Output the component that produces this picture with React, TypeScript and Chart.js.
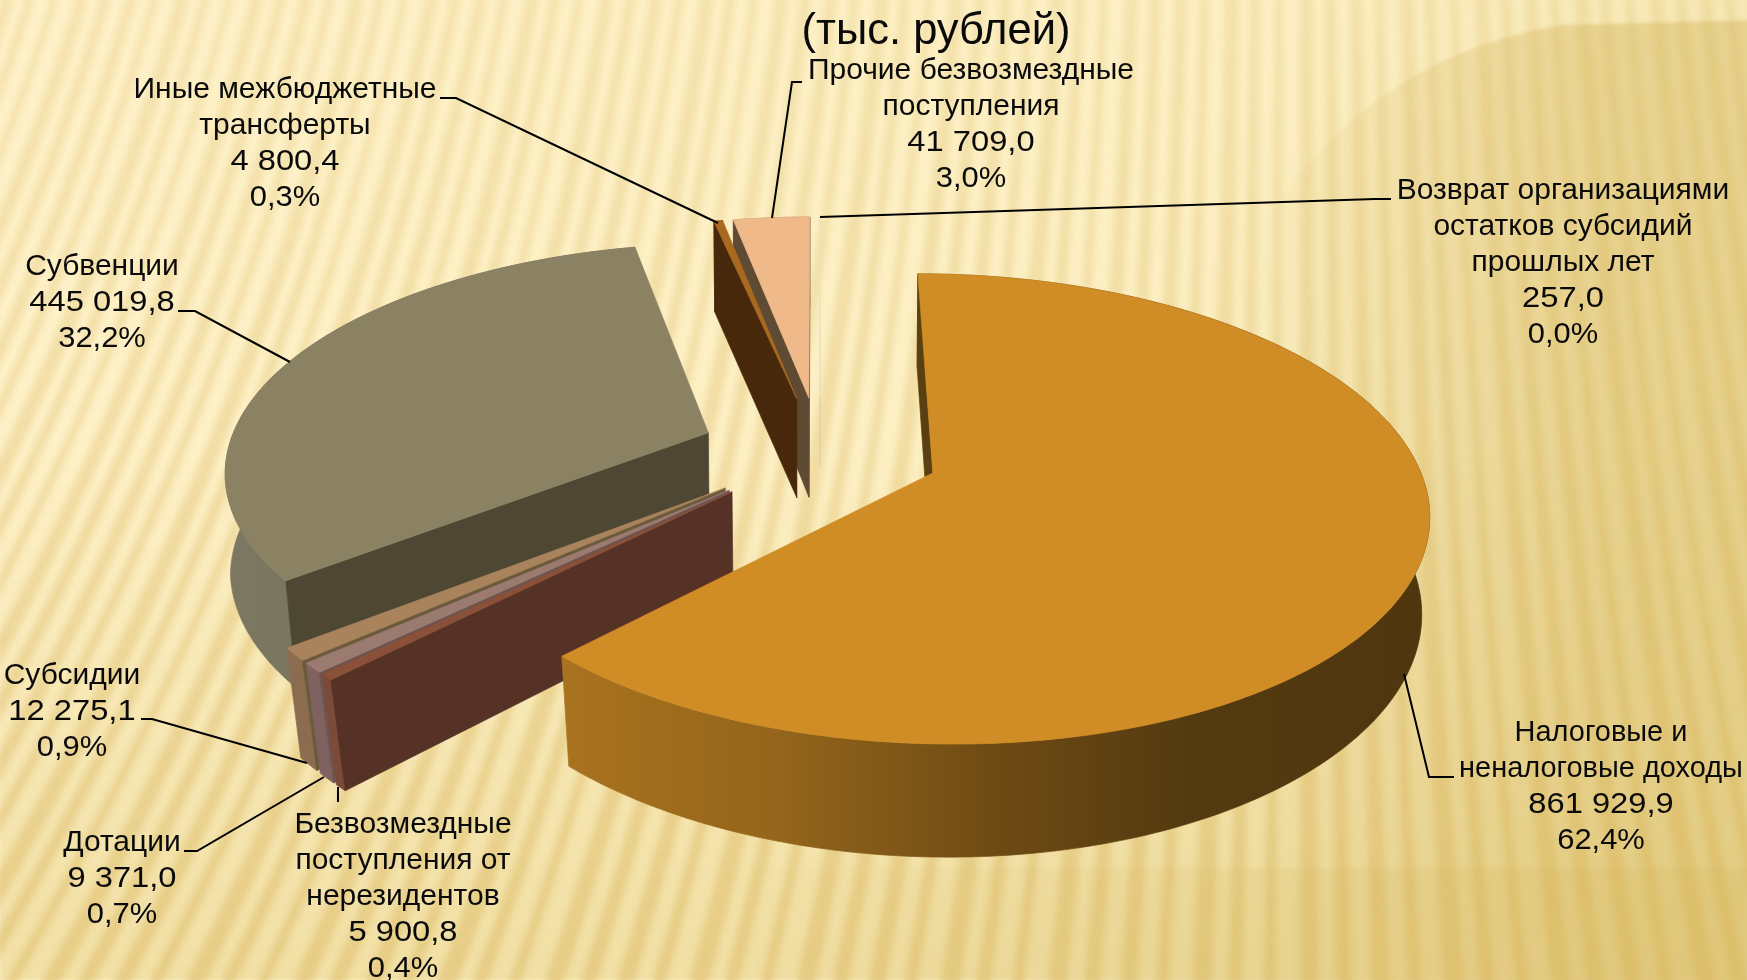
import React, { useEffect, useRef } from "react";
import { Chart, registerables } from "chart.js";

Chart.register(...registerables);

// ---------- data ----------
const categories = [
  "Налоговые и неналоговые доходы",
  "Безвозмездные поступления от нерезидентов",
  "Дотации",
  "Субсидии",
  "Субвенции",
  "Иные межбюджетные трансферты",
  "Прочие безвозмездные поступления",
  "Возврат организациями остатков субсидий прошлых лет",
];
const values = [861929.9, 5900.8, 9371.0, 12275.1, 445019.8, 4800.4, 41709.0, 257.0];
const valueLabels = ["861 929,9", "5 900,8", "9 371,0", "12 275,1", "445 019,8", "4 800,4", "41 709,0", "257,0"];
const percentLabels = ["62,4%", "0,4%", "0,7%", "0,9%", "32,2%", "0,3%", "3,0%", "0,0%"];
const nameLines = [
  ["Налоговые и", "неналоговые доходы"],
  ["Безвозмездные", "поступления от", "нерезидентов"],
  ["Дотации"],
  ["Субсидии"],
  ["Субвенции"],
  ["Иные межбюджетные", "трансферты"],
  ["Прочие безвозмездные", "поступления"],
  ["Возврат организациями", "остатков субсидий", "прошлых лет"],
];
const titleText = "(тыс. рублей)";

// ---------- styles ----------
const topColors = ["#d08d25", "#8a5038", "#9b7a70", "#a8835c", "#8b8264", "#a9691f", "#f0b98a", "#f6ecd0"];
const faceColors = ["#5a3f10", "#563226", "#6c5452", "#6a5a3c", "#4d4734", "#47280b", "#5f4a34", "#d8cfb8"];
const rimStart = ["#a9731f", "#7c4a38", "#7f615f", "#8c6c4e", "#7d7861", "#6f4513", "#a07c5c", "#d8cfb8"];
const rimEnd = ["#4f360f", "#7c4a38", "#7f615f", "#8c6c4e", "#6b664f", "#6f4513", "#a07c5c", "#d8cfb8"];
const paintOrder = [7, 6, 5, 4, 3, 2, 1, 0];
const nameStretch = [0.965, 1, 1, 1, 1, 1, 1, 1];
const depthScale = [1, 1, 1, 1, 1, 1, 1, 0.68];

// leader lines and label centres (px on the 1747x980 slide)
const labelCentres = [
  [1601, 733], [403, 825], [122, 843], [72, 676], [102, 267], [285, 90], [971, 71], [1563, 191],
];
const leaders = [
  [[1404, 674], [1429, 777], [1454, 777]],
  [[338, 787], [338, 802]],
  [[324, 777], [197, 851], [184, 851]],
  [[307, 763], [152, 719], [141, 719]],
  [[290, 362], [195, 311], [178, 311]],
  [[718, 223], [456, 98], [440, 98]],
  [[772, 218], [792, 82], [802, 82]],
  [[820, 217], [1375, 199], [1391, 199]],
];

// camera of the 3D pie
const VIEW = { x0: 820, y0: 473, S: 488, T: 229.6, k: 0.153, n: 0.024, D: 105, cy: 0.095, explode: 0.25 };
const FONT = '30px "Liberation Sans"';
const LINE = 36;
const VALUE_STRETCH = 1.09;
const PERCENT_STRETCH = 1.03;

function project(X: number, Y: number, H: number) {
  const YY = Y + VIEW.cy;
  const w = 1 + VIEW.k * YY + VIEW.n * H;
  const wx = 1 + VIEW.k * YY + H * (0.009 + 0.022 * Math.max(0, -YY));
  return [VIEW.x0 + (VIEW.S * X) / wx, VIEW.y0 + (-VIEW.T * YY + VIEW.D * H) / w];
}

function stripePath(ctx: CanvasRenderingContext2D, u: number, width: number) {
  const xf = 1300;
  const at = (uu: number, y: number) => uu + (uu - xf) * (0.00025 * y + 2e-7 * y * y);
  ctx.beginPath();
  for (let y = -20; y <= 1000; y += 40) ctx.lineTo(at(u, y), y);
  for (let y = 1000; y >= -20; y -= 40) ctx.lineTo(at(u + width, y), y);
  ctx.closePath();
}

const backgroundPlugin = {
  id: "slideBackground",
  beforeDraw(chart: any) {
    const { ctx, width, height } = chart;
    ctx.save();
    const g = ctx.createLinearGradient(0, 0, width, height);
    g.addColorStop(0, "#fef1c8");
    g.addColorStop(0.55, "#fcefc2");
    g.addColorStop(1, "#efdfa5");
    ctx.fillStyle = g;
    ctx.fillRect(0, 0, width, height);

    // darker rounded mass at right
    const r = ctx.createLinearGradient(1250, 0, 1600, 0);
    r.addColorStop(0, "rgba(222,196,118,0)");
    r.addColorStop(1, "rgba(222,196,118,0.6)");
    ctx.fillStyle = r;
    ctx.filter = "blur(1.5px)";
    ctx.beginPath();
    ctx.moveTo(1180, 400);
    ctx.bezierCurveTo(1240, 230, 1340, 60, 1563, 25);
    ctx.lineTo(1760, 20);
    ctx.lineTo(1760, 1000);
    ctx.lineTo(1180, 1000);
    ctx.closePath();
    ctx.fill();

    // darker floor at bottom, fading towards the left
    const b = ctx.createLinearGradient(700, 0, width, 0);
    b.addColorStop(0, "rgba(215,188,105,0)");
    b.addColorStop(1, "rgba(215,188,105,0.4)");
    ctx.fillStyle = b;
    ctx.fillRect(700, 868, width - 700, 120);
    const bl = ctx.createLinearGradient(0, 450, 0, 950);
    bl.addColorStop(0, "rgba(225,200,120,0)");
    bl.addColorStop(1, "rgba(225,200,120,0.4)");
    ctx.fillStyle = bl;
    ctx.fillRect(0, 450, width, 530);

    // fan of soft stripes
    ctx.filter = "blur(3px)";
    const s = ctx.createLinearGradient(0, 0, 0, 950);
    s.addColorStop(0, "rgba(214,176,82,0.2)");
    s.addColorStop(1, "rgba(214,176,82,0.38)");
    const widths = [12, 9, 14, 10, 8, 13, 11];
    let i = 0;
    for (let u = -3200; u < 2600; u += 25) {
      ctx.fillStyle = s;
      stripePath(ctx, u, widths[i % widths.length]);
      ctx.fill();
      i += 1;
    }
    ctx.restore();
  },
};

function drawSlice(ctx: CanvasRenderingContext2D, el: any, i: number) {
  const start = el.startAngle;
  const end = el.endAngle;
  const mid = (start + end) / 2;
  const ox = Math.cos(mid) * VIEW.explode;
  const oy = -Math.sin(mid) * VIEW.explode;
  const depth = depthScale[i];
  const rim = (a: number, H: number) => project(ox + Math.cos(a), oy - Math.sin(a), H * depth);
  const apex = (H: number) => project(ox, oy, H * depth);
  const poly = (pts: number[][], fill: any) => {
    ctx.beginPath();
    pts.forEach((p) => ctx.lineTo(p[0], p[1]));
    ctx.closePath();
    ctx.fillStyle = fill;
    ctx.strokeStyle = fill;
    ctx.lineWidth = i === 7 ? 0.4 : 0.7;
    ctx.fill();
    ctx.stroke();
  };
  const area = (pts: number[][]) =>
    pts.reduce((sum, p, j) => {
      const q = pts[(j + 1) % pts.length];
      return sum + p[0] * q[1] - q[0] * p[1];
    }, 0);

  const n = Math.max(2, Math.ceil(((end - start) * 180) / Math.PI));
  const angles: number[] = [];
  for (let s = 0; s <= n; s += 1) angles.push(start + ((end - start) * s) / n);

  // outer rim
  const topEdge = angles.map((a) => rim(a, 0));
  const botEdge = angles.map((a) => rim(a, 1)).reverse();
  const xs = topEdge.map((p) => p[0]);
  const front = topEdge.filter((p) => p[1] > apex(0)[1]);
  const minX = Math.min(...(front.length ? front.map((p) => p[0]) : xs));
  const maxX = Math.max(...(front.length ? front.map((p) => p[0]) : xs));
  let rimFill: any;
  if (i === 0) {
    rimFill = ctx.createLinearGradient(minX, 0, maxX, 0);
    rimFill.addColorStop(0, rimStart[i]);
    rimFill.addColorStop(0.25, "#94651b");
    rimFill.addColorStop(0.5, "#6e4b14");
    rimFill.addColorStop(0.72, "#543a10");
    rimFill.addColorStop(1, rimEnd[i]);
  } else {
    rimFill = ctx.createLinearGradient(Math.min(...xs), 0, Math.max(...xs), 0);
    rimFill.addColorStop(0, rimStart[i]);
    rimFill.addColorStop(1, rimEnd[i]);
  }
  poly([...topEdge, ...botEdge], rimFill);

  // radial faces, only the ones turned to the viewer
  const startFace = [apex(0), rim(start, 0), rim(start, 1), apex(1)];
  const endFace = [apex(0), rim(end, 0), rim(end, 1), apex(1)];
  if (area(startFace) < 0 || i === 7) poly(startFace, faceColors[i]);
  if (area(endFace) > 0) poly(endFace, faceColors[i]);

  // top face
  poly([apex(0), ...topEdge], topColors[i]);
}

function stretchedText(ctx: CanvasRenderingContext2D, t: string, x: number, y: number, sx: number) {
  ctx.save();
  ctx.translate(x, y);
  ctx.scale(sx, 1);
  ctx.fillText(t, 0, 0);
  ctx.restore();
}

const pie3dPlugin = {
  id: "pie3d",
  beforeDatasetDraw(chart: any, args: any) {
    const meta = args.meta;
    const ctx = chart.ctx;
    ctx.save();
    paintOrder.forEach((i) => drawSlice(ctx, meta.data[i], i));
    ctx.restore();
    return false;
  },
  afterDraw(chart: any) {
    const ctx = chart.ctx;
    ctx.save();
    ctx.strokeStyle = "#000";
    ctx.lineWidth = 2;
    leaders.forEach((pts) => {
      ctx.beginPath();
      pts.forEach((p) => ctx.lineTo(p[0], p[1]));
      ctx.stroke();
    });
    ctx.fillStyle = "#0a0a0a";
    ctx.textAlign = "center";
    ctx.textBaseline = "middle";
    ctx.font = FONT;
    categories.forEach((_, i) => {
      const [cx, cy] = labelCentres[i];
      const names = nameLines[i];
      names.forEach((t, j) => stretchedText(ctx, t, cx, cy + j * LINE, nameStretch[i]));
      stretchedText(ctx, valueLabels[i], cx, cy + names.length * LINE, VALUE_STRETCH);
      stretchedText(ctx, percentLabels[i], cx, cy + (names.length + 1) * LINE, PERCENT_STRETCH);
    });
    ctx.font = '43.5px "Liberation Sans"';
    ctx.fillText(titleText, 936, 32);
    ctx.restore();
  },
};

export default function App() {
  const ref = useRef<HTMLCanvasElement | null>(null);
  useEffect(() => {
    document.body.style.margin = "0";
    document.body.style.overflow = "hidden";
    const chart = new Chart(ref.current as HTMLCanvasElement, {
      type: "pie",
      data: {
        labels: categories,
        datasets: [{ data: values, backgroundColor: topColors, borderWidth: 0 }],
      },
      options: {
        responsive: false,
        animation: false,
        rotation: 0,
        plugins: { legend: { display: false }, tooltip: { enabled: false } },
      },
      plugins: [backgroundPlugin, pie3dPlugin],
    } as any);
    return () => chart.destroy();
  }, []);
  return <canvas ref={ref} width={1747} height={980} style={{ display: "block" }} />;
}
